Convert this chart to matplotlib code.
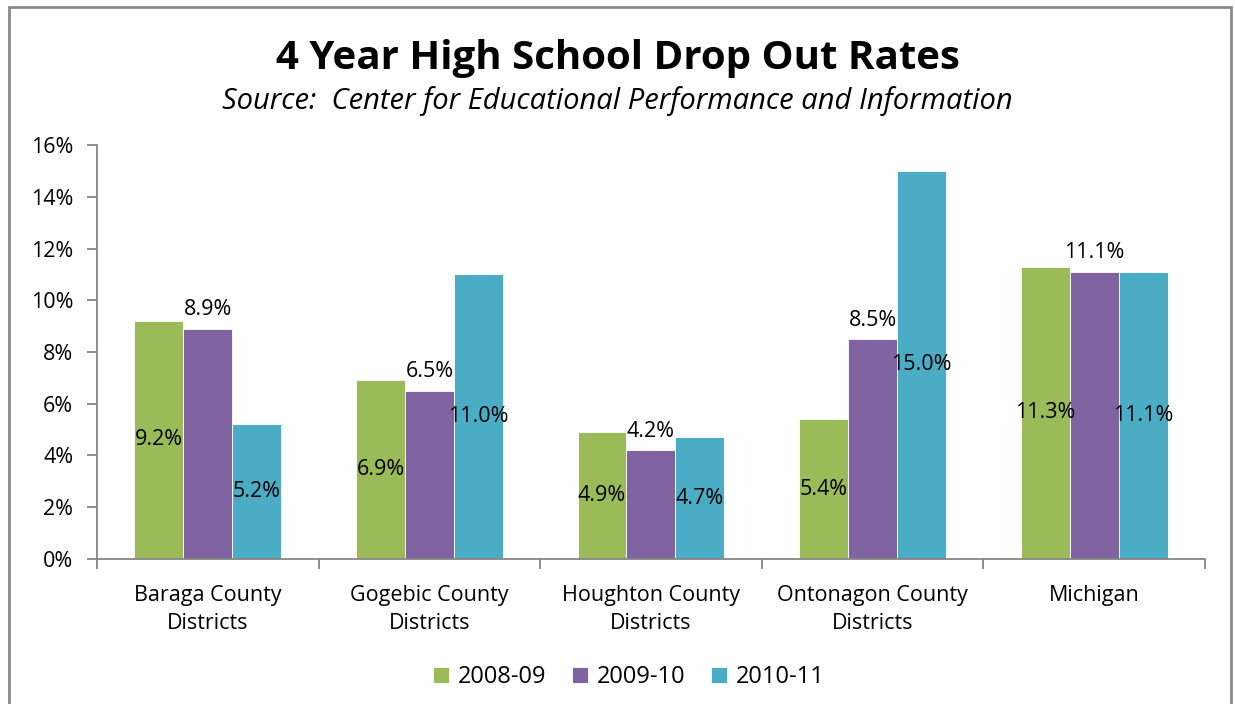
import matplotlib
matplotlib.use('Agg')
import matplotlib.pyplot as plt
import numpy as np
from matplotlib.patches import Rectangle

# Drop-out rates (%) by district group and school year
categories = ['Baraga County\nDistricts', 'Gogebic County\nDistricts',
              'Houghton County\nDistricts', 'Ontonagon County\nDistricts',
              'Michigan']
years = ['2008-09', '2009-10', '2010-11']
rate_0809 = [9.2, 6.9, 4.9, 5.4, 11.3]
rate_0910 = [8.9, 6.5, 4.2, 8.5, 11.1]
rate_1011 = [5.2, 11.0, 4.7, 15.0, 11.1]
y_ticks = [0, 2, 4, 6, 8, 10, 12, 14, 16]

colors = ['#9BBB59', '#8064A2', '#4BACC6']
axis_gray = '#868686'

plt.rcParams['font.family'] = ['Open Sans', 'DejaVu Sans']
fs = 15.5

fig = plt.figure(figsize=(12.35, 7.04), dpi=100)
ax = fig.add_axes([0.0785, 0.206, 0.8972, 0.588])

x = np.arange(len(categories))
w = 0.221
series = [rate_0809, rate_0910, rate_1011]
bars = []
for i, (vals, col, lab) in enumerate(zip(series, colors, years)):
    b = ax.bar(x + (i - 1) * w, vals, w, color=col, label=lab,
               edgecolor='white', linewidth=0.6)
    bars.append(b)

fmt = lambda v: f'{v:.1f}%'
ax.bar_label(bars[0], labels=[fmt(v) for v in rate_0809], label_type='center', fontsize=fs)
ax.bar_label(bars[1], labels=[fmt(v) for v in rate_0910], label_type='edge', padding=6, fontsize=fs)
ax.bar_label(bars[2], labels=[fmt(v) for v in rate_1011], label_type='center', fontsize=fs)

ax.set_xlim(-0.5, len(categories) - 0.5)
ax.set_ylim(0, 16)
ax.set_yticks(y_ticks)
ax.set_yticklabels([f'{t}%' for t in y_ticks], fontsize=fs)

# boundary ticks between groups, labels centred under each group
ax.set_xticks(np.arange(-0.5, len(categories)))
ax.set_xticklabels([])
ax.set_xticks(x, minor=True)
ax.set_xticklabels(categories, minor=True, fontsize=fs, linespacing=1.4)
ax.tick_params(axis='x', which='major', length=7, width=1.3, color=axis_gray, direction='out')
ax.tick_params(axis='x', which='minor', length=0, pad=19)
ax.tick_params(axis='y', length=7, width=1.3, color=axis_gray, direction='out', pad=10)

for side in ['top', 'right']:
    ax.spines[side].set_visible(False)
for side in ['left', 'bottom']:
    ax.spines[side].set_color(axis_gray)
    ax.spines[side].set_linewidth(1.3)

fig.text(0.5, 0.917, '4 Year High School Drop Out Rates', ha='center', va='center',
         fontsize=29, fontweight='bold')
fig.text(0.5, 0.857, 'Source:  Center for Educational Performance and Information',
         ha='center', va='center', fontsize=21, style='italic')

ax.legend(loc='center', bbox_to_anchor=(0.48, -0.285), ncol=3, frameon=False,
          fontsize=17, handlelength=0.68, handleheight=0.68, handletextpad=0.35,
          columnspacing=1.1)

# chart-area frame
fig.add_artist(Rectangle((0.0073, -0.05), 0.9895, 1.04, transform=fig.transFigure,
                         fill=False, edgecolor='#8a8a8a', linewidth=2))

fig.savefig('out.png', dpi=100)
